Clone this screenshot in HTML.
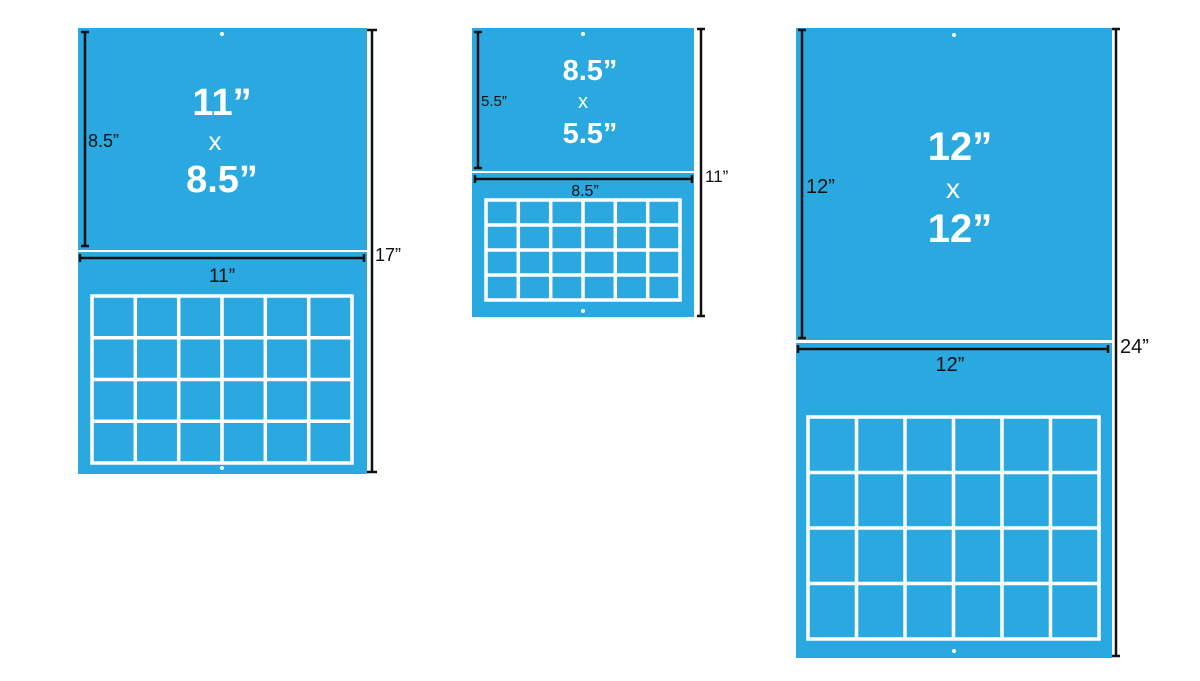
<!DOCTYPE html>
<html><head><meta charset="utf-8"><style>body{margin:0;background:#fff}svg{display:block}</style></head><body>
<svg width="1200" height="681" viewBox="0 0 1200 681" font-family="Liberation Sans, sans-serif">
<g fill="#2aa9e0">
<rect x="78" y="28" width="289" height="222"/><rect x="78" y="252" width="289" height="222"/>
<rect x="472" y="28" width="222" height="143"/><rect x="472" y="173" width="222" height="144"/>
<rect x="796" y="28" width="316" height="312"/><rect x="796" y="343" width="316" height="315"/>
</g>
<g fill="#fff">
<circle cx="222" cy="34" r="2"/><circle cx="222" cy="468" r="2"/>
<circle cx="583" cy="34" r="2"/><circle cx="583" cy="311" r="2"/>
<circle cx="954" cy="35" r="2"/><circle cx="954" cy="651" r="2"/>
</g>
<g stroke="#fff" stroke-width="3.5" fill="none">
<rect x="92" y="296" width="260" height="167"/>
<path d="M135.3 296V463M178.7 296V463M222 296V463M265.3 296V463M308.7 296V463M92 337.75H352M92 379.5H352M92 421.25H352"/>
<rect x="486" y="200" width="194" height="100"/>
<path d="M518.3 200V300M550.7 200V300M583 200V300M615.3 200V300M647.7 200V300M486 225H680M486 250H680M486 275H680"/>
<rect x="808" y="417" width="291" height="222"/>
<path d="M856.5 417V639M905 417V639M953.5 417V639M1002 417V639M1050.5 417V639M808 472.5H1099M808 528H1099M808 583.5H1099"/>
</g>
<g stroke="#111" stroke-width="2.5" fill="none">
<path d="M85 32V246M81 32H89M81 246H89"/>
<path d="M80 258H364M80 254V262M364 254V262"/>
<path d="M372 30V472M367 30H377M367 472H377"/>
<path d="M478 32V168M474 32H482M474 168H482"/>
<path d="M475 179H692M475 175V183M692 175V183"/>
<path d="M701 29V316M697 29H705M697 316H705"/>
<path d="M802 30V338M798 30H806M798 338H806"/>
<path d="M798 349H1108M798 345V353M1108 345V353"/>
<path d="M1116 29V656M1112 29H1120M1112 656H1120"/>
</g>
<g fill="#111" font-size="18">
<text x="88" y="147">8.5”</text><text x="222" y="282" text-anchor="middle" font-size="19">11”</text><text x="375" y="261">17”</text>
<text x="481" y="106" font-size="15">5.5”</text><text x="585" y="196" text-anchor="middle" font-size="16">8.5”</text><text x="705" y="182" font-size="17">11”</text>
<text x="806" y="193" font-size="20">12”</text><text x="950" y="371" text-anchor="middle" font-size="20">12”</text><text x="1120" y="353" font-size="20">24”</text>
</g>
<g fill="#fff" text-anchor="middle">
<text x="222" y="115" font-size="38" font-weight="bold">11”</text>
<text x="215" y="150" font-size="26">x</text>
<text x="222" y="192" font-size="38" font-weight="bold">8.5”</text>
<text x="590" y="80" font-size="29" font-weight="bold">8.5”</text>
<text x="583" y="108" font-size="20">x</text>
<text x="590" y="143" font-size="29" font-weight="bold">5.5”</text>
<text x="960" y="160" font-size="40" font-weight="bold">12”</text>
<text x="953" y="198" font-size="28">x</text>
<text x="960" y="242" font-size="40" font-weight="bold">12”</text>
</g>
</svg>
</body></html>
